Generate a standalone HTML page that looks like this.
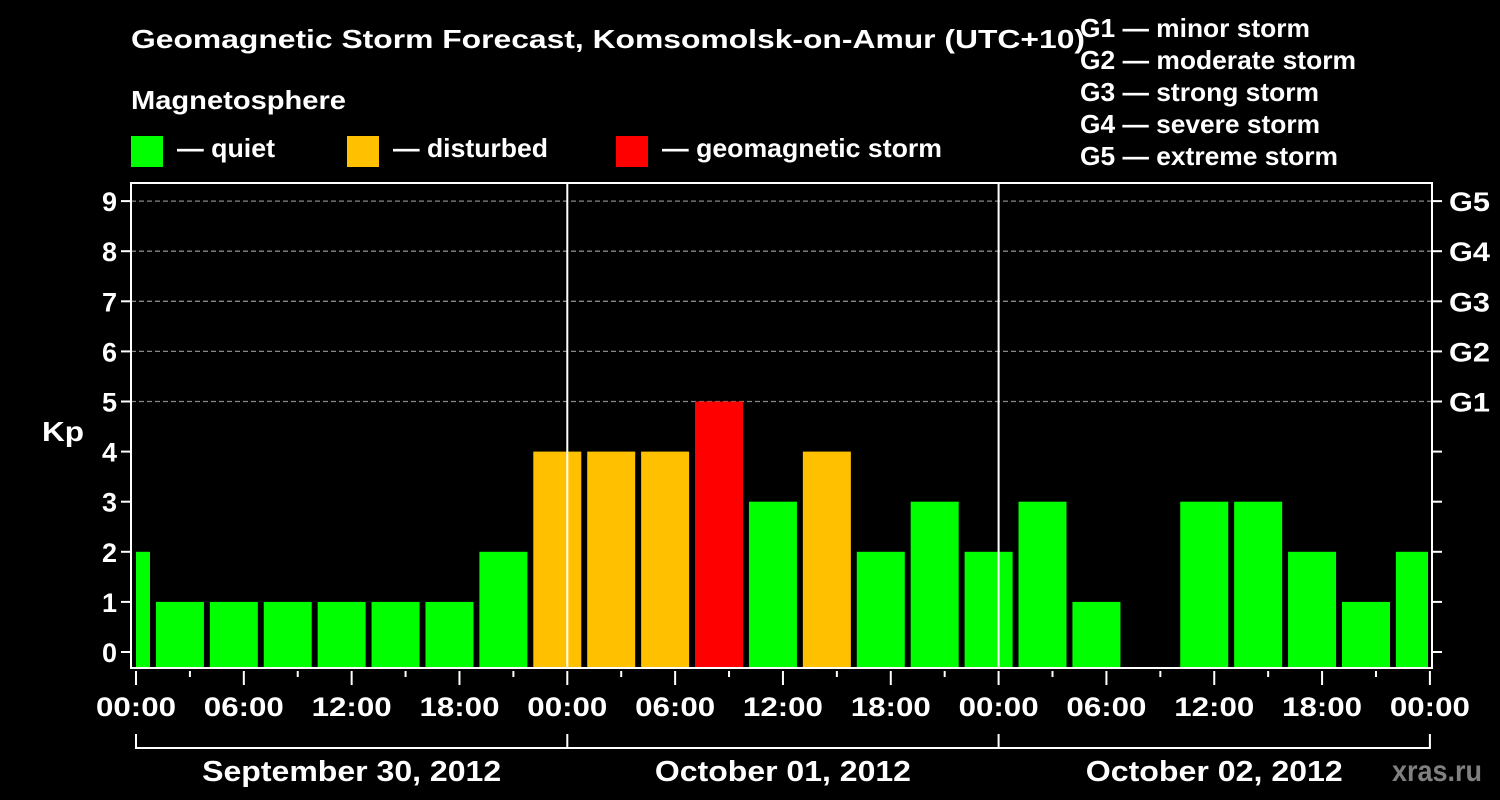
<!DOCTYPE html>
<html><head><meta charset="utf-8"><style>
html,body{margin:0;padding:0;background:#000;}
svg{display:block;font-family:"Liberation Sans",Arial,sans-serif;font-weight:bold;}
</style></head><body>
<svg id="chart" width="1500" height="800" viewBox="0 0 1500 800">
<rect width="1500" height="800" fill="#000"/>
<text x="131" y="48" fill="#fff" font-size="26" textLength="954" lengthAdjust="spacingAndGlyphs">Geomagnetic Storm Forecast, Komsomolsk-on-Amur (UTC+10)</text>
<text x="131" y="109" fill="#fff" font-size="26" textLength="215" lengthAdjust="spacingAndGlyphs">Magnetosphere</text>
<g><rect x="131" y="136" width="32" height="31" fill="#00ff00"/><text x="177" y="157" fill="#fff" font-size="26" textLength="98" lengthAdjust="spacingAndGlyphs">— quiet</text></g>
<g><rect x="347" y="136" width="32" height="31" fill="#ffc000"/><text x="393" y="157" fill="#fff" font-size="26" textLength="155" lengthAdjust="spacingAndGlyphs">— disturbed</text></g>
<g><rect x="616" y="136" width="32" height="31" fill="#ff0000"/><text x="662" y="157" fill="#fff" font-size="26" textLength="280" lengthAdjust="spacingAndGlyphs">— geomagnetic storm</text></g>
<g fill="#fff" font-size="26">
<text x="1080" y="37" textLength="230" lengthAdjust="spacingAndGlyphs">G1 — minor storm</text>
<text x="1080" y="69" textLength="276" lengthAdjust="spacingAndGlyphs">G2 — moderate storm</text>
<text x="1080" y="101" textLength="239" lengthAdjust="spacingAndGlyphs">G3 — strong storm</text>
<text x="1080" y="133" textLength="240" lengthAdjust="spacingAndGlyphs">G4 — severe storm</text>
<text x="1080" y="165" textLength="258" lengthAdjust="spacingAndGlyphs">G5 — extreme storm</text>
</g>
<text x="42" y="441" fill="#fff" font-size="28" textLength="42" lengthAdjust="spacingAndGlyphs">Kp</text>
<text x="1392" y="781" fill="#808080" font-size="30" textLength="90" lengthAdjust="spacingAndGlyphs">xras.ru</text>
<defs><clipPath id="pc"><rect x="136" y="150" width="1292" height="520"/></clipPath></defs>
<g id="grid"></g>
<g id="bars" clip-path="url(#pc)"></g>
<g id="axes"></g>
</svg>
<script>
const kpValues=[2,1,1,1,1,1,1,2,4,4,4,5,3,4,2,3,2,3,1,0,3,3,2,1,2];
const yTickLabels=["0","1","2","3","4","5","6","7","8","9"];
const gLabels=["G1","G2","G3","G4","G5"];
const xTickLabels=["00:00","06:00","12:00","18:00","00:00","06:00","12:00","18:00","00:00","06:00","12:00","18:00","00:00"];
const dayLabels=["September 30, 2012","October 01, 2012","October 02, 2012"];

const NS="http://www.w3.org/2000/svg";
const X0=136,DAY=431.3,Y0=652,UNIT=50.1,BOT=668,TOP=183,LEFT=131,RIGHT=1432;
const xh=h=>X0+h*DAY/24;
const yk=v=>Y0-v*UNIT;
function mk(p,tag,a){const e=document.createElementNS(NS,tag);for(const k in a)e.setAttribute(k,a[k]);p.appendChild(e);return e;}
const grid=document.getElementById('grid'),bars=document.getElementById('bars'),axes=document.getElementById('axes');
for(let g=5;g<=9;g++){
 const l=mk(grid,'line',{x1:LEFT,x2:RIGHT,y1:yk(g),y2:yk(g),stroke:'#888','stroke-width':1.3,'stroke-dasharray':'5,3'});
 
 
}
kpValues.forEach((v,i)=>{
 if(v<=0)return;
 const col=v>=5?'#ff0000':(v>=4?'#ffc000':'#00ff00');
 const r=mk(bars,'rect',{x:xh(3*i)-34,y:yk(v),width:48,height:BOT-yk(v),fill:col});
 
 
});
[1,2].forEach(d=>{
 const l=mk(axes,'line',{x1:xh(24*d),x2:xh(24*d),y1:TOP,y2:BOT,stroke:'#fff','stroke-width':2});
 
 
});
const fr=mk(axes,'rect',{x:LEFT,y:TOP,width:RIGHT-LEFT,height:BOT-TOP,fill:'none',stroke:'#fff','stroke-width':2});


yTickLabels.forEach((t,i)=>{
 const y=yk(i);
 mk(axes,'line',{x1:121,x2:LEFT,y1:y,y2:y,stroke:'#fff','stroke-width':2});
 mk(axes,'line',{x1:RIGHT,x2:1442,y1:y,y2:y,stroke:'#fff','stroke-width':2});
 const tx=mk(axes,'text',{x:117,y:y+10,fill:'#fff','font-size':27,'text-anchor':'end'});
 tx.textContent=t;
 
 
});
gLabels.forEach((t,i)=>{
 const tx=mk(axes,'text',{x:1449,y:yk(5+i)+10,fill:'#fff','font-size':27,textLength:41,lengthAdjust:'spacingAndGlyphs'});
 tx.textContent=t;
 
 
});
for(let h=0;h<=72;h+=3){
 const major=h%6===0;
 mk(axes,'line',{x1:xh(h),x2:xh(h),y1:BOT+3,y2:major?685:677,stroke:'#fff','stroke-width':2});
}
xTickLabels.forEach((t,i)=>{
 const tx=mk(axes,'text',{x:xh(6*i)-40,y:716,fill:'#fff','font-size':27,textLength:80,lengthAdjust:'spacingAndGlyphs'});
 tx.textContent=t;
 
 
});
mk(axes,'line',{x1:xh(0),x2:xh(72),y1:748,y2:748,stroke:'#fff','stroke-width':2});
for(let d=0;d<=3;d++)mk(axes,'line',{x1:xh(24*d),x2:xh(24*d),y1:734,y2:749,stroke:'#fff','stroke-width':2});
const dayW=[299,256,257];
dayLabels.forEach((t,i)=>{
 const tx=mk(axes,'text',{x:xh(24*i+12)-dayW[i]/2,y:781,fill:'#fff','font-size':29,textLength:dayW[i],lengthAdjust:'spacingAndGlyphs'});
 tx.textContent=t;
 
 
});
</script>
</body></html>
